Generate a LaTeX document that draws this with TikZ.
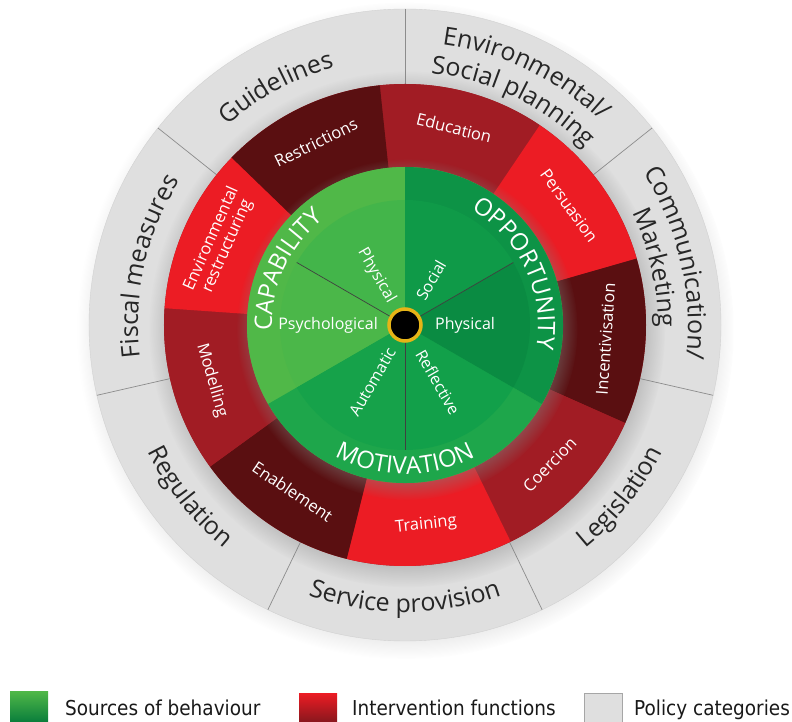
\documentclass[tikz,border=0pt]{standalone}
\usepackage{fontspec}
\setmainfont{Open Sans}
\newfontfamily\legendfont[FakeStretch=0.9]{DejaVu Sans}
\usetikzlibrary{decorations.text,shadows}

% couleurs de la roue
\definecolor{policygrey}{HTML}{DFDFDF}
\definecolor{policyline}{HTML}{8C8C8C}
\definecolor{policytext}{HTML}{262626}
\definecolor{fnbright}{HTML}{EC1C24}
\definecolor{fnmid}{HTML}{A11C24}
\definecolor{fndark}{HTML}{5A0F11}
\definecolor{capband}{HTML}{50B848}
\definecolor{capphys}{HTML}{43B54A}
\definecolor{cappsych}{HTML}{4BB749}
\definecolor{oppband}{HTML}{0D9346}
\definecolor{oppsoc}{HTML}{0F9A48}
\definecolor{oppphys}{HTML}{0A8B42}
\definecolor{motband}{HTML}{1EA64B}
\definecolor{motauto}{HTML}{16A24A}
\definecolor{motrefl}{HTML}{12A04A}
\definecolor{hubgold}{HTML}{E6B417}

% polices
\newcommand{\policyfont}{\fontsize{25}{30}\selectfont}
\newcommand{\capsfont}{\fontsize{24}{28}\selectfont}
\newcommand{\fnfont}{\fontsize{16.5}{17.5}\selectfont}
\newcommand{\srcfont}{\fontsize{16}{18}\selectfont}

% secteur d'anneau : angle debut, angle fin, rayon int., rayon ext.
\newcommand{\annulus}[4]{(#1:#3) arc[start angle=#1, end angle=#2, radius=#3] -- (#2:#4) arc[start angle=#2, end angle=#1, radius=#4] -- cycle}

% texte courbe, sens horaire (haut des lettres vers l'exterieur)
\newcommand{\cwtext}[5]{\path[decorate, decoration={text along path, text color=#3, text align=center, text={|#4|#5}}] ({#1+80}:#2) arc[start angle={#1+80}, end angle={#1-80}, radius=#2];}
% texte courbe, sens trigo (haut des lettres vers le centre)
\newcommand{\ccwtext}[5]{\path[decorate, decoration={text along path, text color=#3, text align=center, text={|#4|#5}}] ({#1-80}:#2) arc[start angle={#1-80}, end angle={#1+80}, radius=#2];}

\tikzset{
  fnlabel/.style={text=white, font=\fnfont, align=center, inner sep=0pt},
  srclabel/.style={text=white, font=\srcfont, inner sep=0pt},
  policysep/.style={draw=policyline, line width=.7pt},
  subline/.style={draw=black!75, line width=.7pt},
  legendbox/.style={minimum width=38pt, minimum height=31pt, inner sep=0pt, anchor=north west},
  legendtext/.style={font=\legendfont\fontsize{20.5}{24}\selectfont, anchor=base west, inner sep=0pt, text=black!90},
}

\begin{document}
\begin{tikzpicture}[x=1pt, y=1pt]
    \useasboundingbox (-405,-397) rectangle (387,325);

    % anneau exterieur : categories de politiques
    \node[circle, minimum size=632pt, inner sep=0pt, fill=policygrey, draw=policyline!40,
          circular drop shadow={shadow scale=1.04, shadow xshift=1pt, shadow yshift=-5pt, opacity=.35}] (policy) at (0,0) {};
    \foreach \k in {0,...,6}
        \draw[policysep] ({90-\k*51.4286}:241) -- ({90-\k*51.4286}:316);

    % anneau du milieu : fonctions d'intervention
    \node[circle, minimum size=482pt, inner sep=0pt, fill=fnmid,
          circular drop shadow={shadow scale=1.07, shadow xshift=2pt, shadow yshift=-4pt, opacity=.6}] (functions) at (0,0) {};
    \foreach \a/\col in {96/fnmid, 56/fnbright, 16/fndark, -24/fnmid, -64/fnbright,
                         -104/fndark, -144/fnmid, -184/fnbright, -224/fndark}
        \fill[\col] \annulus{\a-40}{\a}{150}{241};

    % disque central : sources du comportement
    \node[circle, minimum size=316pt, inner sep=0pt, fill=capband,
          circular drop shadow={shadow scale=1.08, shadow xshift=2pt, shadow yshift=-4pt, opacity=.6}] (sources) at (0,0) {};
    \foreach \s/\e/\col in {90/210/capband, 210/330/motband, -30/90/oppband}
        \fill[\col] (0,0) -- (\s:158) arc[start angle=\s, end angle=\e, radius=158] -- cycle;
    \foreach \s/\e/\col in {90/150/capphys, 150/210/cappsych, 210/270/motauto,
                            270/330/motrefl, -30/30/oppphys, 30/90/oppsoc}
        \fill[\col] (0,0) -- (\s:125) arc[start angle=\s, end angle=\e, radius=125] -- cycle;

    % moyeu
    \node[circle, fill=black, draw=hubgold, line width=3.5pt, minimum size=32pt, inner sep=0pt] (hub) at (0,0) {};
    \foreach \a in {30,150,270}
        \draw[subline] (hub) -- (\a:125);

    % etiquettes des sous-secteurs
    \foreach \a/\txt in {0/Physical, 60/Social, 300/Reflective}
        \node[srclabel, anchor=west, rotate=\a] (src-\a) at (\a:30) {\txt};
    \foreach \a/\txt in {120/Physical, 180/Psychological, 240/Automatic}
        \node[srclabel, anchor=east, rotate=\a+180] (src-\a) at (\a:27) {\txt};

    % etiquettes courbes des sources
    \cwtext{155}{133}{white}{\capsfont}{CAPABILITY}
    \cwtext{25}{133}{white}{\capsfont}{OPPORTUNITY}
    \ccwtext{270}{149}{white}{\capsfont}{MOTIVATION}

    % fonctions d'intervention
    \foreach \a/\txt in {36/Persuasion, 76/Education, 116/Restrictions, 156/{Environmental\\restructuring}}
        \node[fnlabel, rotate=\a-90] (fn-\a) at (\a:203) {\txt};
    \foreach \a/\txt in {196/Modelling, 236/Enablement, 276/Training, 316/Coercion, 356/Incentivisation}
        \node[fnlabel, rotate=\a+90] (fn-\a) at (\a:201) {\txt};

    % categories de politiques
    \cwtext{118.5}{267}{policytext}{\policyfont}{Guidelines}
    \cwtext{64.3}{283}{policytext}{\policyfont}{Environmental/}
    \cwtext{64.3}{253}{policytext}{\policyfont}{Social planning}
    \cwtext{12.9}{283}{policytext}{\policyfont}{Communication/}
    \cwtext{12.9}{253}{policytext}{\policyfont}{Marketing}
    \ccwtext{-38.6}{287}{policytext}{\policyfont}{Legislation}
    \ccwtext{-90}{287}{policytext}{\policyfont}{Service provision}
    \ccwtext{-141.4}{287}{policytext}{\policyfont}{Regulation}
    \cwtext{167.1}{267}{policytext}{\policyfont}{Fiscal measures}

    % legende
    \node[legendbox, top color=capband, bottom color=oppphys!90!black] (key-src) at (-395,-366) {};
    \node[legendtext] (key-src-txt) at (-340,-390) {Sources of behaviour};
    \node[legendbox, top color=fnbright, bottom color=fnmid!80!black] (key-fn) at (-106,-368) {};
    \node[legendtext] (key-fn-txt) at (-53,-390) {Intervention functions};
    \node[legendbox, fill=policygrey, draw=black!35] (key-pol) at (179,-368) {};
    \node[legendtext] (key-pol-txt) at (229,-390) {Policy categories};
\end{tikzpicture}
\end{document}
